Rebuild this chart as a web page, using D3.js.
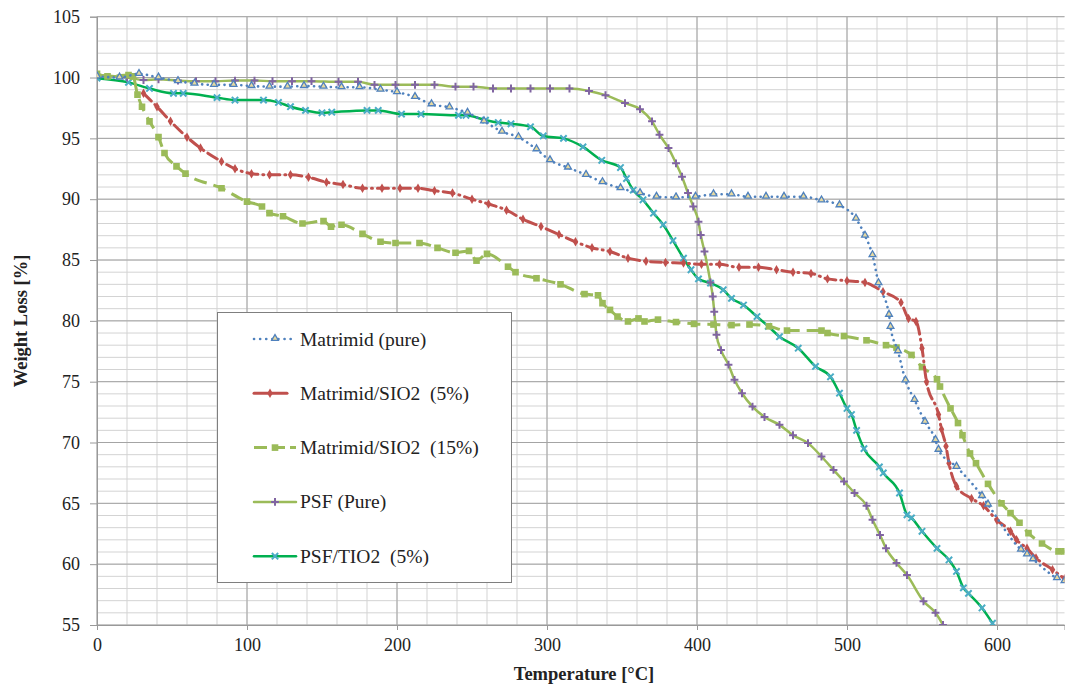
<!DOCTYPE html>
<html>
<head>
<meta charset="utf-8">
<script src="https://cdn.jsdelivr.net/npm/d3@7"></script>
<style>
	body { margin: 0; background: #fff; }
	svg text { font-family: 'Liberation Serif', 'Times New Roman', serif; fill: #222; }
</style>
</head>
<body>
<div class="chart"></div>
<script>
// series: [temperature, weight %]
const matrimidPure = [[0,100.1],[15,100.0],[28,100.3],[41,100.0],[54,99.7],[65,99.5],[78,99.4],[91,99.4],[103,99.3],[115,99.25],[127,99.25],[138,99.3],[151,99.25],[163,99.2],[175,99.2],[189,99.0],[200,98.8],[212,98.4],[223,97.8],[235,97.55],[247,97.1],[258,96.4],[270,95.55],[281,95.1],[293,94.1],[302,93.2],[314,92.6],[326,92.0],[337,91.4],[349,90.9],[362,90.5],[373,90.2],[386,90.15],[399,90.2],[411,90.4],[423,90.4],[434,90.2],[446,90.2],[458,90.2],[471,90.2],[483,89.9],[495,89.5],[506,88.4],[512,87.0],[517,85.4],[521,83.1],[528,80.5],[529,79.5],[534,77.5],[539,75.1],[545,73.5],[552,71.7],[559,70.2],[561,69.4],[573,68.0],[590,65.6],[594,64.9],[616,61.2],[620,60.8],[624,60.4],[640,58.85],[645,58.6]]

const matrimidSio5 = [[31,98.7],[40,97.6],[49,96.4],[60,95.1],[69,94.2],[83,93.1],[92,92.5],[103,92.1],[115,92.0],[129,92.0],[141,91.8],[153,91.4],[164,91.2],[177,90.9],[190,90.9],[202,90.9],[214,90.9],[225,90.7],[237,90.5],[250,90.0],[261,89.6],[273,89.1],[284,88.35],[296,87.75],[308,87.1],[319,86.5],[330,86.0],[342,85.7],[354,85.15],[366,84.9],[379,84.8],[391,84.75],[403,84.65],[415,84.65],[428,84.4],[441,84.4],[453,84.2],[464,84.0],[476,83.9],[487,83.45],[500,83.3],[512,83.15],[524,82.4],[536,81.5],[541,80.2],[546,79.95],[550,77.75],[553,75.0],[561,72.3],[563,71.1],[566,69.7],[568,68.3],[573,66.4],[583,65.4],[591,64.8],[600,63.6],[609,62.7],[613,62.0],[620,61.3],[626,60.5],[637,59.55],[645,58.8]]

const matrimidSio15 = [[0,100.3],[7,100.1],[21,100.2],[24,100.1],[27,98.6],[30,97.6],[35,96.4],[41,95.1],[45,93.8],[53,92.7],[59,92.1],[83,90.9],[100,89.8],[110,89.4],[115,88.85],[124,88.6],[137,88.0],[151,88.2],[156,87.75],[163,87.9],[177,87.15],[189,86.5],[199,86.4],[215,86.4],[227,86.0],[239,85.6],[248,85.75],[253,84.95],[260,85.5],[274,84.45],[279,84.0],[293,83.5],[309,83.0],[325,82.2],[334,82.1],[337,81.45],[342,80.9],[347,80.35],[354,79.95],[361,80.2],[365,79.95],[374,80.1],[386,79.9],[398,79.75],[411,79.7],[423,79.65],[435,79.7],[448,79.55],[460,79.2],[483,79.2],[487,79.0],[498,78.75],[513,78.4],[526,78.0],[533,77.8],[543,77.2],[550,76.2],[560,75.2],[562,74.6],[569,72.8],[574,71.6],[577,70.6],[582,69.1],[586,68.3],[594,66.6],[603,65.0],[609,64.2],[615,63.4],[621,62.55],[630,61.7],[641,61.05],[645,61.05]]

const psfPure = [[0,100.2],[20,100.0],[31,99.8],[41,99.85],[54,99.75],[66,99.7],[79,99.7],[92,99.75],[105,99.75],[117,99.7],[130,99.7],[143,99.7],[161,99.65],[174,99.65],[185,99.4],[199,99.4],[212,99.4],[225,99.4],[239,99.25],[251,99.25],[264,99.1],[276,99.1],[289,99.1],[302,99.1],[315,99.1],[328,98.9],[339,98.55],[352,97.9],[362,97.4],[370,96.4],[375,95.3],[381,94.2],[386,92.95],[390,91.85],[394,90.5],[397.5,89.4],[401,88.15],[402.5,87.05],[405,85.7],[409,83.15],[410.5,82.0],[411.5,80.75],[413,78.85],[416,77.6],[421,76.4],[425,75.15],[430,74.05],[437,72.95],[445,72.1],[455,71.45],[464,70.6],[474,69.95],[483,68.85],[491,67.75],[498,66.8],[505,65.85],[513,64.8],[517,63.65],[522,62.4],[526,61.3],[533,60.1],[540,59.1],[551,56.95],[559,56.0],[564,55.0]]

const psfTio5 = [[0,99.95],[21,99.6],[35,99.1],[51,98.7],[57.5,98.7],[80,98.35],[92,98.15],[111,98.15],[121,97.95],[129,97.6],[139,97.3],[150,97.1],[156.5,97.15],[180,97.3],[187.5,97.3],[203,97.0],[216,97.0],[241,96.9],[246,96.9],[259,96.5],[267.5,96.3],[276,96.2],[289,95.95],[297.5,95.2],[311,95.0],[324,94.3],[336.5,93.2],[349,92.6],[353,91.7],[357.5,90.75],[364,89.95],[371,88.85],[377.5,87.9],[384,86.6],[391,85.15],[396,84.2],[401,83.45],[409,83.1],[417.5,82.55],[423,81.85],[431,81.3],[440,80.35],[447.5,79.55],[455,78.7],[467.5,77.75],[479,76.25],[489,75.4],[495,74.05],[500,72.8],[503,72.3],[506.4,71.0],[511.3,69.5],[521.6,68.0],[524.2,67.5],[535,65.85],[540,64.05],[543,63.8],[550,62.7],[560,61.3],[568,60.35],[573,59.4],[577.6,58.05],[581,57.6],[590,56.4],[597,55.15]]

const seriesNames = ['Matrimid (pure)', 'Matrimid/SIO2  (5%)', 'Matrimid/SIO2  (15%)', 'PSF (Pure)', 'PSF/TIO2  (5%)']
const xTicks = [0, 100, 200, 300, 400, 500, 600]
const yTicks = [55, 60, 65, 70, 75, 80, 85, 90, 95, 100, 105]

const width = 1065
const height = 687
const plotLeft = 97
const plotRight = 1064.5
const plotTop = 16.7
const plotBottom = 625

const xScale = d3.scaleLinear().domain([0, 645]).range([plotLeft, plotRight])
const yScale = d3.scaleLinear().domain([55, 105]).range([plotBottom, plotTop])

const styles = [
	{ data: matrimidPure, color: '#4f81bd', width: 2.6, dash: '0.1,5.5', cap: 'round', marker: 'tri' },
	{ data: matrimidSio5, color: '#c0504d', width: 3, dash: '11,5,1,5', cap: 'round', marker: 'diamond' },
	{ data: matrimidSio15, color: '#9bbb59', width: 3, dash: '13,7', cap: 'butt', marker: 'square' },
	{ data: psfPure, color: '#9bbb59', width: 2.5, dash: null, cap: 'round', marker: 'plus' },
	{ data: psfTio5, color: '#00b050', width: 2.5, dash: null, cap: 'round', marker: 'times' }
]

const svg = d3.select('.chart')
	.append('svg')
	.attr('width', width)
	.attr('height', height)

// grid, minor first then major
const minorX = d3.range(0, 646, 20)
const minorY = d3.range(55, 106, 1)

svg.append('g')
	.selectAll('line')
	.data(minorX)
	.enter()
	.append('line')
	.attr('x1', d => xScale(d))
	.attr('x2', d => xScale(d))
	.attr('y1', plotTop)
	.attr('y2', plotBottom)
	.attr('stroke', '#d3d3d3')

svg.append('g')
	.selectAll('line')
	.data(minorY)
	.enter()
	.append('line')
	.attr('x1', plotLeft)
	.attr('x2', plotRight)
	.attr('y1', d => yScale(d))
	.attr('y2', d => yScale(d))
	.attr('stroke', '#d3d3d3')

svg.append('g')
	.selectAll('line')
	.data(xTicks)
	.enter()
	.append('line')
	.attr('x1', d => xScale(d))
	.attr('x2', d => xScale(d))
	.attr('y1', plotTop)
	.attr('y2', plotBottom)
	.attr('stroke', '#a4a4a4')

svg.append('g')
	.selectAll('line')
	.data(yTicks)
	.enter()
	.append('line')
	.attr('x1', plotLeft)
	.attr('x2', plotRight)
	.attr('y1', d => yScale(d))
	.attr('y2', d => yScale(d))
	.attr('stroke', '#a4a4a4')

// axes
const xAxis = d3.axisBottom(xScale).tickValues(xTicks).tickSize(5).tickPadding(8).tickFormat(d3.format('d'))
const yAxis = d3.axisLeft(yScale).tickValues(yTicks).tickSize(7).tickPadding(10).tickFormat(d3.format('d'))

const gx = svg.append('g')
	.attr('transform', 'translate(0,' + plotBottom + ')')
	.call(xAxis)
gx.select('.domain').attr('stroke', '#999')
gx.selectAll('.tick line').attr('stroke', '#999')
gx.selectAll('text').style('font-size', '18px').attr('fill', '#333')

const gy = svg.append('g')
	.attr('transform', 'translate(' + plotLeft + ',0)')
	.call(yAxis)
gy.select('.domain').attr('stroke', '#999')
gy.selectAll('.tick line').attr('stroke', '#999')
gy.selectAll('text').style('font-size', '18px').attr('fill', '#333')

svg.append('text')
	.attr('x', 584)
	.attr('y', 680)
	.attr('text-anchor', 'middle')
	.style('font-size', '18.5px')
	.style('font-weight', 'bold')
	.text('Temperature [°C]')

svg.append('text')
	.attr('transform', 'translate(27,321) rotate(-90)')
	.attr('text-anchor', 'middle')
	.style('font-size', '18.5px')
	.style('font-weight', 'bold')
	.text('Weight Loss [%]')

// markers
function drawMarker(g, type, color, x, y) {
	if (type === 'tri') {
		g.append('path')
			.attr('d', d3.symbol().type(d3.symbolTriangle).size(20)())
			.attr('transform', 'translate(' + x + ',' + (y - 0.5) + ')')
			.attr('fill', '#e6d9a0')
			.attr('stroke', color)
			.attr('stroke-width', 1.3)
	} else if (type === 'diamond') {
		g.append('path')
			.attr('d', d3.symbol().type(d3.symbolDiamond).size(26)())
			.attr('transform', 'translate(' + x + ',' + y + ')')
			.attr('fill', color)
	} else if (type === 'square') {
		g.append('path')
			.attr('d', d3.symbol().type(d3.symbolSquare).size(44)())
			.attr('transform', 'translate(' + x + ',' + y + ')')
			.attr('fill', color)
	} else if (type === 'plus') {
		g.append('path')
			.attr('d', d3.symbol().type(d3.symbolPlus).size(22)())
			.attr('transform', 'translate(' + x + ',' + y + ')')
			.attr('fill', 'none')
			.attr('stroke', '#8064a2')
			.attr('stroke-width', 2)
	} else if (type === 'times') {
		g.append('path')
			.attr('d', d3.symbol().type(d3.symbolTimes).size(28)())
			.attr('transform', 'translate(' + x + ',' + y + ')')
			.attr('fill', 'none')
			.attr('stroke', '#4bacc6')
			.attr('stroke-width', 2)
	}
}

svg.append('defs')
	.append('clipPath')
	.attr('id', 'plot-clip')
	.append('rect')
	.attr('x', plotLeft)
	.attr('y', plotTop)
	.attr('width', plotRight - plotLeft)
	.attr('height', plotBottom - plotTop)

const plot = svg.append('g').attr('clip-path', 'url(#plot-clip)')

const line = d3.line()
	.x(d => xScale(d[0]))
	.y(d => yScale(d[1]))
	.curve(d3.curveMonotoneX)

// draw in reverse so the first series ends up on top like in the original
styles.slice().reverse().forEach(s => {
	plot.append('path')
		.datum(s.data)
		.attr('d', line)
		.attr('fill', 'none')
		.attr('stroke', s.color)
		.attr('stroke-width', s.width)
		.attr('stroke-dasharray', s.dash)
		.attr('stroke-linecap', s.cap)
		.attr('stroke-linejoin', 'round')
	const mg = plot.append('g')
	s.data.forEach(d => drawMarker(mg, s.marker, s.color, xScale(d[0]), yScale(d[1])))
})

// legend
const legend = svg.append('g').attr('id', 'legend')

legend.append('rect')
	.attr('x', 217.5)
	.attr('y', 312.5)
	.attr('width', 294)
	.attr('height', 270)
	.attr('fill', '#fff')
	.attr('stroke', '#7f7f7f')

styles.forEach((s, i) => {
	const ly = 339 + i * 54.3
	const item = legend.append('g')
	item.append('line')
		.attr('x1', 254)
		.attr('x2', i === 1 ? 287 : 296)
		.attr('y1', ly)
		.attr('y2', ly)
		.attr('stroke', s.color)
		.attr('stroke-width', s.width)
		.attr('stroke-dasharray', s.dash ? (i === 0 ? '0.1,6' : (i === 2 ? '13,5' : null)) : null)
		.attr('stroke-linecap', s.cap)
	drawMarker(item, s.marker, s.color, i === 1 ? 270 : 275, ly)
	item.append('text')
		.attr('x', 300)
		.attr('y', ly + 6.5)
		.style('font-size', '19.5px')
		.style('white-space', 'pre')
		.text(seriesNames[i])
})
</script>
</body>
</html>
